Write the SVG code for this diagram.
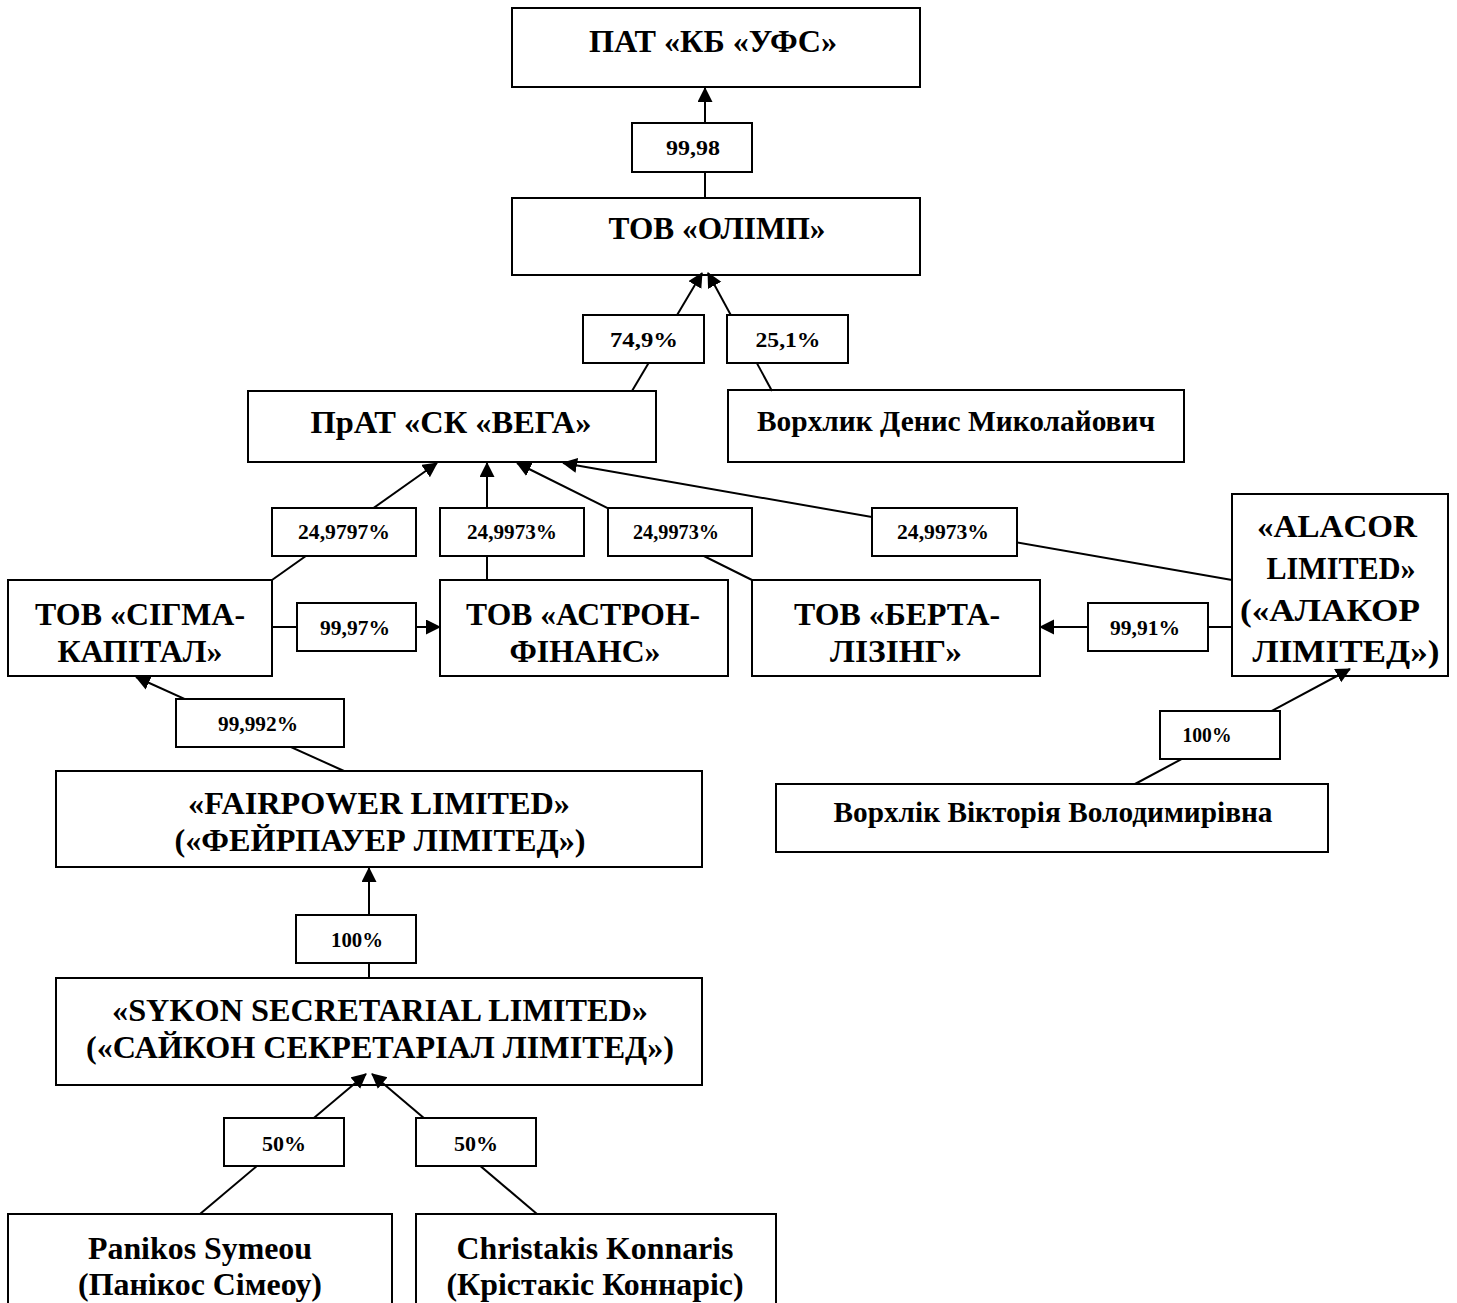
<svg xmlns="http://www.w3.org/2000/svg" width="1457" height="1303" viewBox="0 0 1457 1303">
<defs>
<style>
.box{fill:#fff;stroke:#000;stroke-width:2}
.lbl{fill:#fff;stroke:#000;stroke-width:2}
.t{font-weight:bold;fill:#000;text-anchor:middle}
.n{font-size:32px}
.m{font-size:29px}
.s{font-size:22px}
.c{fill:none;stroke:#000;stroke-width:2}
</style>
<marker id="ah" markerUnits="userSpaceOnUse" markerWidth="16" markerHeight="16" refX="14" refY="7.5" orient="auto">
<path d="M0,0 L15,7.5 L0,15 z" fill="#000"/>
</marker>
</defs>
<rect width="1457" height="1303" fill="#fff"/>

<g id="nodes" font-family="Liberation Serif, Times New Roman, serif">
<g id="n-ufs"><rect class="box" x="512" y="8" width="408" height="79"/><text class="t n" x="713" y="52" textLength="248" lengthAdjust="spacingAndGlyphs">ПАТ «КБ «УФС»</text></g>
<g id="n-olimp"><rect class="box" x="512" y="198" width="408" height="77"/><text class="t n" x="717" y="239" textLength="217" lengthAdjust="spacingAndGlyphs">ТОВ «ОЛІМП»</text></g>
<g id="n-vega"><rect class="box" x="248" y="391" width="408" height="71"/><text class="t n" x="451" y="433" textLength="281" lengthAdjust="spacingAndGlyphs">ПрАТ «СК «ВЕГА»</text></g>
<g id="n-denys"><rect class="box" x="728" y="390" width="456" height="72"/><text class="t m" x="956" y="431" textLength="398" lengthAdjust="spacingAndGlyphs">Ворхлик Денис Миколайович</text></g>
<g id="n-sigma"><rect class="box" x="8" y="580" width="264" height="96"/><text class="t n" x="140" y="625" textLength="210" lengthAdjust="spacingAndGlyphs">ТОВ «СІГМА-</text><text class="t n" x="140" y="662" textLength="165" lengthAdjust="spacingAndGlyphs">КАПІТАЛ»</text></g>
<g id="n-astron"><rect class="box" x="440" y="580" width="288" height="96"/><text class="t n" x="583" y="625" textLength="234" lengthAdjust="spacingAndGlyphs">ТОВ «АСТРОН-</text><text class="t n" x="585" y="662" textLength="151" lengthAdjust="spacingAndGlyphs">ФІНАНС»</text></g>
<g id="n-berta"><rect class="box" x="752" y="580" width="288" height="96"/><text class="t n" x="897" y="625" textLength="206" lengthAdjust="spacingAndGlyphs">ТОВ «БЕРТА-</text><text class="t n" x="896" y="662" textLength="132" lengthAdjust="spacingAndGlyphs">ЛІЗІНГ»</text></g>
<g id="n-alacor"><rect class="box" x="1232" y="494" width="216" height="182"/><text class="t n" x="1337" y="537" textLength="160" lengthAdjust="spacingAndGlyphs">«ALACOR</text><text class="t n" x="1341" y="579" textLength="149" lengthAdjust="spacingAndGlyphs">LIMITED»</text><text class="t n" x="1330" y="621" textLength="180" lengthAdjust="spacingAndGlyphs">(«АЛАКОР</text><text class="t n" x="1346" y="662" textLength="187" lengthAdjust="spacingAndGlyphs">ЛІМІТЕД»)</text></g>
<g id="n-fairpower"><rect class="box" x="56" y="771" width="646" height="96"/><text class="t n" x="379" y="814" textLength="382" lengthAdjust="spacingAndGlyphs">«FAIRPOWER LIMITED»</text><text class="t n" x="380" y="851" textLength="411" lengthAdjust="spacingAndGlyphs">(«ФЕЙРПАУЕР ЛІМІТЕД»)</text></g>
<g id="n-viktoriia"><rect class="box" x="776" y="784" width="552" height="68"/><text class="t m" x="1053" y="822" textLength="439" lengthAdjust="spacingAndGlyphs">Ворхлік Вікторія Володимирівна</text></g>
<g id="n-sykon"><rect class="box" x="56" y="978" width="646" height="107"/><text class="t n" x="380" y="1021" textLength="536" lengthAdjust="spacingAndGlyphs">«SYKON SECRETARIAL LIMITED»</text><text class="t n" x="380" y="1058" textLength="588" lengthAdjust="spacingAndGlyphs">(«САЙКОН СЕКРЕТАРІАЛ ЛІМІТЕД»)</text></g>
<g id="n-panikos"><rect class="box" x="8" y="1214" width="384" height="100"/><text class="t n" x="200" y="1259" textLength="224" lengthAdjust="spacingAndGlyphs">Panikos Symeou</text><text class="t n" x="200" y="1295" textLength="244" lengthAdjust="spacingAndGlyphs">(Панікос Сімеоу)</text></g>
<g id="n-christakis"><rect class="box" x="416" y="1214" width="360" height="100"/><text class="t n" x="595" y="1259" textLength="277" lengthAdjust="spacingAndGlyphs">Christakis Konnaris</text><text class="t n" x="595" y="1295" textLength="297" lengthAdjust="spacingAndGlyphs">(Крістакіс Коннаріс)</text></g>
</g>

<g id="connectors">
<path class="c" d="M705,198 L705,88" marker-end="url(#ah)"/>
<path class="c" d="M632,391 L702,273" marker-end="url(#ah)"/>
<path class="c" d="M772,391 L708,273" marker-end="url(#ah)"/>
<path class="c" d="M272,580 L437,463" marker-end="url(#ah)"/>
<path class="c" d="M487,580 L487,463" marker-end="url(#ah)"/>
<path class="c" d="M752,580 L517,463" marker-end="url(#ah)"/>
<path class="c" d="M1232,580 L563,463" marker-end="url(#ah)"/>
<path class="c" d="M272,627 L440,627" marker-end="url(#ah)"/>
<path class="c" d="M1232,627 L1040,627" marker-end="url(#ah)"/>
<path class="c" d="M344,771 L136,677" marker-end="url(#ah)"/>
<path class="c" d="M369,978 L369,868" marker-end="url(#ah)"/>
<path class="c" d="M200,1214 L366,1074" marker-end="url(#ah)"/>
<path class="c" d="M537,1214 L372,1074" marker-end="url(#ah)"/>
<path class="c" d="M1135,784 L1350,669" marker-end="url(#ah)"/>
</g>

<g id="labels" font-family="Liberation Serif, Times New Roman, serif">
<g id="l1"><rect class="lbl" x="632" y="123" width="120" height="49"/><text class="t s" x="693" y="155" textLength="54" lengthAdjust="spacingAndGlyphs">99,98</text></g>
<g id="l2"><rect class="lbl" x="583" y="315" width="121" height="48"/><text class="t s" x="644" y="347" textLength="68" lengthAdjust="spacingAndGlyphs">74,9%</text></g>
<g id="l3"><rect class="lbl" x="727" y="315" width="121" height="48"/><text class="t s" x="788" y="347" textLength="65" lengthAdjust="spacingAndGlyphs">25,1%</text></g>
<g id="l4"><rect class="lbl" x="272" y="508" width="144" height="48"/><text class="t s" x="344" y="539" textLength="92" lengthAdjust="spacingAndGlyphs">24,9797%</text></g>
<g id="l5"><rect class="lbl" x="440" y="508" width="144" height="48"/><text class="t s" x="512" y="539" textLength="90" lengthAdjust="spacingAndGlyphs">24,9973%</text></g>
<g id="l6"><rect class="lbl" x="608" y="508" width="144" height="48"/><text class="t s" x="676" y="539" textLength="86" lengthAdjust="spacingAndGlyphs">24,9973%</text></g>
<g id="l7"><rect class="lbl" x="872" y="508" width="145" height="48"/><text class="t s" x="943" y="539" textLength="92" lengthAdjust="spacingAndGlyphs">24,9973%</text></g>
<g id="l8"><rect class="lbl" x="297" y="603" width="119" height="48"/><text class="t s" x="355" y="635" textLength="70" lengthAdjust="spacingAndGlyphs">99,97%</text></g>
<g id="l9"><rect class="lbl" x="1088" y="603" width="120" height="48"/><text class="t s" x="1145" y="635" textLength="70" lengthAdjust="spacingAndGlyphs">99,91%</text></g>
<g id="l10"><rect class="lbl" x="176" y="699" width="168" height="48"/><text class="t s" x="258" y="731" textLength="80" lengthAdjust="spacingAndGlyphs">99,992%</text></g>
<g id="l11"><rect class="lbl" x="296" y="915" width="120" height="48"/><text class="t s" x="357" y="947" textLength="52" lengthAdjust="spacingAndGlyphs">100%</text></g>
<g id="l12"><rect class="lbl" x="1160" y="711" width="120" height="48"/><text class="t s" x="1207" y="742" textLength="49" lengthAdjust="spacingAndGlyphs">100%</text></g>
<g id="l13"><rect class="lbl" x="224" y="1118" width="120" height="48"/><text class="t s" x="284" y="1151" textLength="44" lengthAdjust="spacingAndGlyphs">50%</text></g>
<g id="l14"><rect class="lbl" x="416" y="1118" width="120" height="48"/><text class="t s" x="476" y="1151" textLength="44" lengthAdjust="spacingAndGlyphs">50%</text></g>
</g>
</svg>
